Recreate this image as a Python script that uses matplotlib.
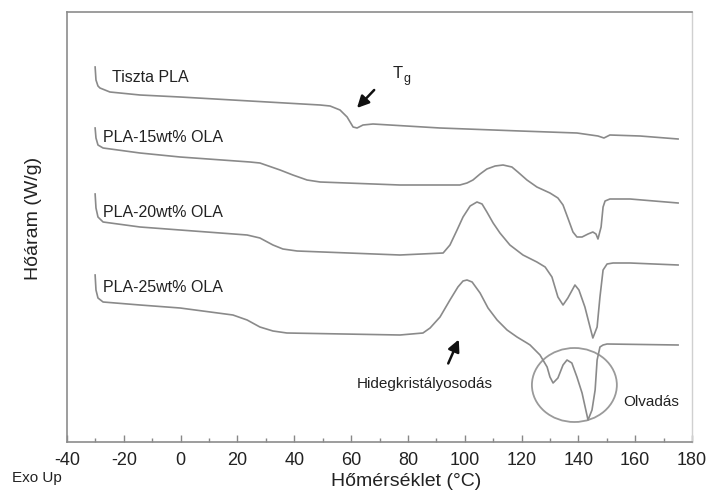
import numpy as np
import matplotlib
matplotlib.use("Agg")
import matplotlib.pyplot as plt
from matplotlib.patches import Ellipse

plt.rcParams['font.family'] = ['Liberation Sans', 'DejaVu Sans']

# DSC görbék (hőmérséklet °C, hőáram tetszőleges egység, eltolva)
t_pla = [-30.1, -29.8, -29.1, -28.4, -24.9, -14.3, -0.2, 24.4, 49.1, 52.6, 56.1, 58.6,
         60.7, 62.1, 64.2, 67.7, 91.3, 119.5, 139.5, 146.9, 149.0, 151.1, 161.7, 175.1]
h_pla = [3.75, 3.62, 3.56, 3.54, 3.50, 3.47, 3.45, 3.41, 3.37, 3.36, 3.32, 3.25,
         3.15, 3.14, 3.17, 3.18, 3.14, 3.11, 3.09, 3.06, 3.04, 3.07, 3.06, 3.03]

t_15 = [-30.1, -29.8, -29.1, -27.3, -14.3, -0.2, 24.4, 27.9, 35.0, 39.5, 44.5, 49.1,
        77.2, 98.3, 100.8, 102.9, 105.4, 107.8, 110.7, 113.5, 116.6, 118.7, 121.9,
        125.4, 130.0, 132.8, 134.6, 136.3, 138.1, 139.5, 141.3, 143.4, 145.1, 146.2,
        146.9, 148.0, 148.7, 149.4, 151.1, 158.2, 175.1]
h_15 = [3.14, 3.04, 2.97, 2.94, 2.89, 2.85, 2.80, 2.79, 2.72, 2.67, 2.62, 2.60,
        2.57, 2.57, 2.59, 2.62, 2.68, 2.73, 2.76, 2.77, 2.75, 2.70, 2.62,
        2.55, 2.49, 2.44, 2.37, 2.24, 2.10, 2.05, 2.05, 2.08, 2.10, 2.08,
        2.03, 2.15, 2.35, 2.41, 2.43, 2.43, 2.39]

t_20 = [-30.1, -29.8, -29.1, -27.3, -14.3, -0.2, 23.4, 27.9, 32.5, 36.0, 41.0,
        77.2, 92.4, 94.8, 97.3, 99.4, 101.9, 104.3, 106.1, 107.8, 110.0, 112.4,
        115.9, 120.5, 125.4, 128.3, 130.7, 132.8, 134.6, 136.3, 138.8, 140.2, 142.3,
        144.1, 145.1, 146.6, 147.6, 148.7, 150.1, 152.2, 158.2, 175.1]
h_20 = [2.48, 2.34, 2.25, 2.20, 2.15, 2.12, 2.07, 2.04, 1.97, 1.93, 1.91,
        1.87, 1.89, 1.97, 2.12, 2.25, 2.36, 2.40, 2.38, 2.30, 2.19, 2.09,
        1.97, 1.87, 1.80, 1.75, 1.65, 1.45, 1.37, 1.44, 1.57, 1.52, 1.35,
        1.15, 1.04, 1.15, 1.45, 1.72, 1.78, 1.79, 1.79, 1.77]

t_25 = [-30.1, -29.8, -29.1, -27.3, -14.3, -0.2, 18.4, 23.4, 27.9, 32.5, 37.4,
        77.2, 85.3, 87.8, 91.3, 94.8, 97.6, 99.4, 100.8, 102.6, 105.4, 108.2, 111.4,
        114.9, 118.4, 121.9, 123.0, 126.5, 129.0, 130.0, 131.1, 132.8, 134.6, 136.0,
        137.7, 139.5, 141.3, 143.4, 144.8, 145.9, 146.6, 147.6, 148.7, 150.1, 175.1]
h_25 = [1.67, 1.52, 1.44, 1.40, 1.37, 1.34, 1.27, 1.22, 1.15, 1.11, 1.09,
        1.07, 1.09, 1.14, 1.25, 1.42, 1.55, 1.61, 1.62, 1.60, 1.49, 1.34, 1.22,
        1.12, 1.05, 0.99, 0.97, 0.87, 0.75, 0.65, 0.59, 0.64, 0.77, 0.82,
        0.79, 0.65, 0.49, 0.22, 0.32, 0.52, 0.82, 0.95, 0.97, 0.98, 0.97]

names = ["Tiszta PLA", "PLA-15wt% OLA", "PLA-20wt% OLA", "PLA-25wt% OLA"]
label_pos = [(-24.2, 3.65), (-27.3, 3.05), (-27.3, 2.30), (-27.3, 1.55)]
xticks = np.arange(-40, 181, 20)

curve_col = "#8a8a8a"
txt_col = "#222222"

fig = plt.figure(figsize=(7.09, 4.90), dpi=100)
ax = fig.add_axes([67 / 709, 48 / 490, 625 / 709, 430 / 490])

for t, h in [(t_pla, h_pla), (t_15, h_15), (t_20, h_20), (t_25, h_25)]:
    ax.plot(t, h, color=curve_col, lw=1.2, solid_joinstyle="round")

for name, (x, y) in zip(names, label_pos):
    ax.text(x, y, name, fontsize=11.5, color=txt_col, va="center", ha="left")

# Tg nyíl
ax.annotate("", xy=(61.4, 3.32), xytext=(68.8, 3.54),
            arrowprops=dict(arrowstyle="-|>,head_length=0.7,head_width=0.35",
                            color="#111111", lw=1.8))
ax.text(74.6, 3.69, "T", fontsize=12, color=txt_col, va="center", ha="left")
ax.text(78.4, 3.63, "g", fontsize=9, color=txt_col, va="center", ha="left")

# hidegkristályosodás
ax.annotate("", xy=(98.3, 1.05), xytext=(93.8, 0.76),
            arrowprops=dict(arrowstyle="-|>,head_length=0.7,head_width=0.35",
                            color="#111111", lw=1.8))
ax.text(62.1, 0.58, "Hidegkristályosodás", fontsize=11, color=txt_col,
        va="center", ha="left")

# olvadás
ax.add_patch(Ellipse((138.6, 0.57), 29.9, 0.74, fill=False,
                     edgecolor="#9a9a9a", lw=1.3))
ax.text(155.7, 0.40, "Olvadás", fontsize=11, color=txt_col, va="center", ha="left")

ax.set_xlim(-40, 180)
ax.set_ylim(0, 4.30)
ax.set_xticks(xticks)
ax.set_xticks(np.arange(-30, 180, 20), minor=True)
ax.set_xticklabels([str(v) for v in xticks])
ax.set_yticks([])
ax.tick_params(axis="x", which="major", direction="in", length=5, width=1,
               color="#888888", labelsize=13, labelcolor=txt_col, pad=7)
ax.tick_params(axis="x", which="minor", direction="in", length=3, width=1,
               color="#888888")

for s in ["left", "bottom", "top"]:
    ax.spines[s].set_color("#8c8c8c")
    ax.spines[s].set_linewidth(1.2)
ax.spines["right"].set_color("#d0d0d0")
ax.spines["right"].set_linewidth(1.0)

fig.text(406 / 709, 4 / 490, "Hőmérséklet (°C)", fontsize=14, color=txt_col,
         ha="center", va="baseline")
fig.text(33 / 709, (490 - 218) / 490, "Hőáram (W/g)", fontsize=14, color=txt_col,
         rotation=90, ha="center", va="center")
fig.text(12 / 709, 8 / 490, "Exo Up", fontsize=11, color=txt_col,
         ha="left", va="baseline")

fig.savefig("out.png", dpi=100)
